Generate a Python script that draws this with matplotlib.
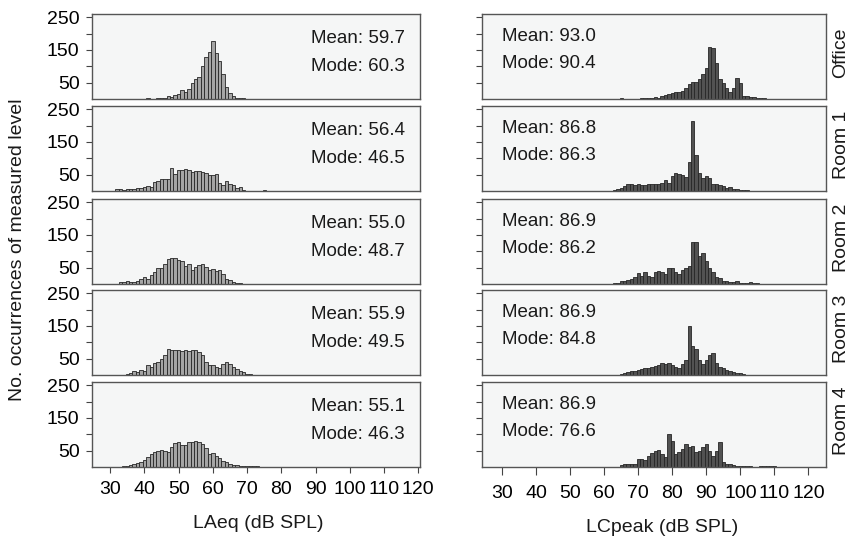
"""Histograms of LAeq and LCpeak per room (office + 4 rooms)."""

import matplotlib
matplotlib.use("Agg")
import matplotlib.pyplot as plt

plt.rcParams["font.family"] = ["Liberation Sans", "DejaVu Sans"]

rooms = ["Office", "Room 1", "Room 2", "Room 3", "Room 4"]

# LAeq: bin centres (1 dB bins) and counts per room
laeq_office_x = list(range(41, 71))
laeq_office_n = [3, 1, 1, 3, 2, 4, 9, 6, 12, 15, 28, 22, 30, 48, 62, 68, 100,
                 128, 145, 178, 140, 115, 75, 38, 18, 8, 4, 2, 2, 1]
laeq_room1_x = list(range(32, 76))
laeq_room1_n = [5, 6, 4, 6, 7, 7, 9, 10, 13, 15, 12, 27, 30, 38, 38, 38, 70,
                52, 64, 65, 68, 64, 57, 60, 60, 58, 56, 48, 50, 52, 24, 18, 32,
                22, 18, 10, 12, 2, 1, 1, 1, 1, 0, 2]
laeq_room2_x = list(range(33, 76))
laeq_room2_n = [5, 7, 10, 7, 6, 8, 14, 20, 15, 28, 38, 50, 48, 60, 76, 79, 80,
                72, 70, 55, 62, 42, 52, 58, 60, 52, 44, 46, 40, 42, 30, 14, 12,
                6, 3, 2, 1, 1, 1, 1, 1, 1, 1]
laeq_room3_x = list(range(35, 76))
laeq_room3_n = [2, 5, 12, 8, 15, 12, 32, 24, 38, 40, 50, 62, 80, 76, 75, 76,
                74, 76, 74, 77, 76, 70, 62, 40, 32, 30, 24, 20, 34, 40, 34, 26,
                18, 12, 8, 4, 2, 1, 1, 1, 1]
laeq_room4_x = list(range(34, 75))
laeq_room4_n = [3, 4, 6, 8, 12, 16, 22, 30, 40, 46, 50, 52, 48, 46, 62, 72, 78,
                68, 66, 76, 78, 79, 76, 70, 58, 40, 42, 35, 28, 18, 14, 10, 6,
                5, 3, 2, 2, 3, 3, 2, 1]

# LCpeak: bin centres and counts per room
lcpk_office_x = list(range(65, 111))
lcpk_office_n = [2, 1, 0, 0, 0, 0, 2, 2, 3, 3, 5, 4, 10, 12, 15, 18, 20, 20,
                 25, 35, 45, 52, 52, 60, 75, 95, 160, 155, 110, 60, 48, 35, 22,
                 35, 65, 48, 10, 8, 6, 5, 4, 3, 2, 1, 1, 1]
lcpk_room1_x = list(range(62, 105))
lcpk_room1_n = [1, 2, 5, 10, 14, 20, 20, 19, 20, 19, 18, 20, 20, 20, 22, 25,
                35, 25, 45, 55, 52, 48, 42, 88, 215, 110, 55, 40, 45, 40, 22,
                20, 18, 14, 10, 12, 5, 7, 4, 3, 2, 1, 1]
lcpk_room2_x = list(range(63, 115))
lcpk_room2_n = [2, 4, 8, 10, 12, 15, 20, 35, 25, 38, 25, 20, 38, 40, 36, 30,
                50, 50, 38, 32, 42, 48, 55, 130, 128, 85, 95, 70, 50, 38, 22,
                18, 10, 8, 6, 5, 8, 4, 3, 2, 5, 4, 2, 1, 1, 0, 0, 0, 0, 0, 0, 1]
lcpk_room3_x = list(range(65, 115))
lcpk_room3_n = [3, 7, 10, 12, 13, 15, 18, 20, 22, 25, 28, 32, 38, 35, 38, 32,
                25, 20, 35, 45, 150, 90, 80, 45, 35, 45, 60, 68, 38, 25, 22, 15,
                12, 10, 6, 5, 3, 1, 1, 1, 1, 1, 0, 0, 0, 0, 0, 0, 0, 1]
lcpk_room4_x = list(range(65, 111))
lcpk_room4_n = [5, 8, 10, 8, 10, 25, 25, 22, 35, 42, 48, 52, 40, 30, 100, 80,
                40, 45, 55, 70, 60, 65, 45, 50, 60, 70, 50, 35, 50, 75, 15, 10,
                8, 6, 4, 3, 3, 3, 3, 0, 0, 2, 2, 2, 2, 2]

laeq_x = [laeq_office_x, laeq_room1_x, laeq_room2_x, laeq_room3_x, laeq_room4_x]
laeq_n = [laeq_office_n, laeq_room1_n, laeq_room2_n, laeq_room3_n, laeq_room4_n]
lcpk_x = [lcpk_office_x, lcpk_room1_x, lcpk_room2_x, lcpk_room3_x, lcpk_room4_x]
lcpk_n = [lcpk_office_n, lcpk_room1_n, lcpk_room2_n, lcpk_room3_n, lcpk_room4_n]

laeq_mean = ["59.7", "56.4", "55.0", "55.9", "55.1"]
laeq_mode = ["60.3", "46.5", "48.7", "49.5", "46.3"]
lcpk_mean = ["93.0", "86.8", "86.9", "86.9", "86.9"]
lcpk_mode = ["90.4", "86.3", "86.2", "84.8", "76.6"]

x_ticks = list(range(30, 121, 10))
y_ticks = [50, 100, 150, 200, 250]
y_ticklabels = ["50", "", "150", "", "250"]

W, H = 858, 544
FS = 13.5
FS_TICK = 14
fig = plt.figure(figsize=(W / 100, H / 100), dpi=100)

# panel geometry in pixels (top of each row, left/width of each column)
row_tops = [14, 106, 199, 290, 382]
row_h = 85
cols = [(92, 328, (24.7, 120.5), "#a5a5a5"), (482, 344, (24.0, 125.2), "#525252")]


def px_axes(left, top, w, h):
    return fig.add_axes([left / W, 1 - (top + h) / H, w / W, h / H])


for r, top in enumerate(row_tops):
    for c, (left, width, xlim, colour) in enumerate(cols):
        ax = px_axes(left, top, width, row_h)
        ax.set_facecolor("#f5f6f6")
        xs = laeq_x[r] if c == 0 else lcpk_x[r]
        ns = laeq_n[r] if c == 0 else lcpk_n[r]
        ax.bar(xs, ns, width=1.0, color=colour, edgecolor="#262626", linewidth=0.6)
        ax.set_xlim(*xlim)
        ax.set_ylim(0, 260)
        for s in ax.spines.values():
            s.set_color("#555555")
            s.set_linewidth(1.0)
        ax.set_yticks(y_ticks)
        if c == 0:
            ax.set_yticklabels(y_ticklabels, fontsize=FS_TICK)
            ax.tick_params(axis="y", direction="out", length=4, pad=5,
                           color="#444444")
        else:
            ax.set_yticklabels([])
            ax.tick_params(axis="y", direction="out", length=4, color="#444444")
        if r == len(row_tops) - 1:
            ax.set_xticks(x_ticks)
            ax.set_xticklabels([str(t) for t in x_ticks], fontsize=FS_TICK)
            ax.tick_params(axis="x", direction="out", length=4 if c == 0 else 6,
                           pad=6 if c == 0 else 7, color="#444444")
        else:
            ax.set_xticks([])

        if c == 0:
            tx, y1, y2 = 0.668, 0.655, 0.335
            mean, mode = laeq_mean[r], laeq_mode[r]
        else:
            tx, y1, y2 = 0.057, 0.68, 0.365
            mean, mode = lcpk_mean[r], lcpk_mode[r]
        ax.text(tx, y1, f"Mean: {mean}", transform=ax.transAxes, fontsize=FS,
                va="baseline", ha="left", color="#1a1a1a")
        ax.text(tx, y2, f"Mode: {mode}", transform=ax.transAxes, fontsize=FS,
                va="baseline", ha="left", color="#1a1a1a")

    # room name on the right side
    fig.text(841 / W, 1 - (top + row_h / 2 - 4) / H, rooms[r], rotation=90,
             fontsize=FS_TICK, ha="center", va="center", color="#1a1a1a")

fig.text(18 / W, 1 - 250 / H, "No. occurrences of measured level", rotation=90,
         fontsize=FS_TICK, ha="center", va="center", color="#1a1a1a")
fig.text(258 / W, 1 - 524 / H, "LAeq (dB SPL)", fontsize=FS_TICK,
         ha="center", va="center", color="#1a1a1a")
fig.text(662 / W, 1 - 527 / H, "LCpeak (dB SPL)", fontsize=FS_TICK,
         ha="center", va="center", color="#1a1a1a")

fig.savefig("out.png", dpi=100)
